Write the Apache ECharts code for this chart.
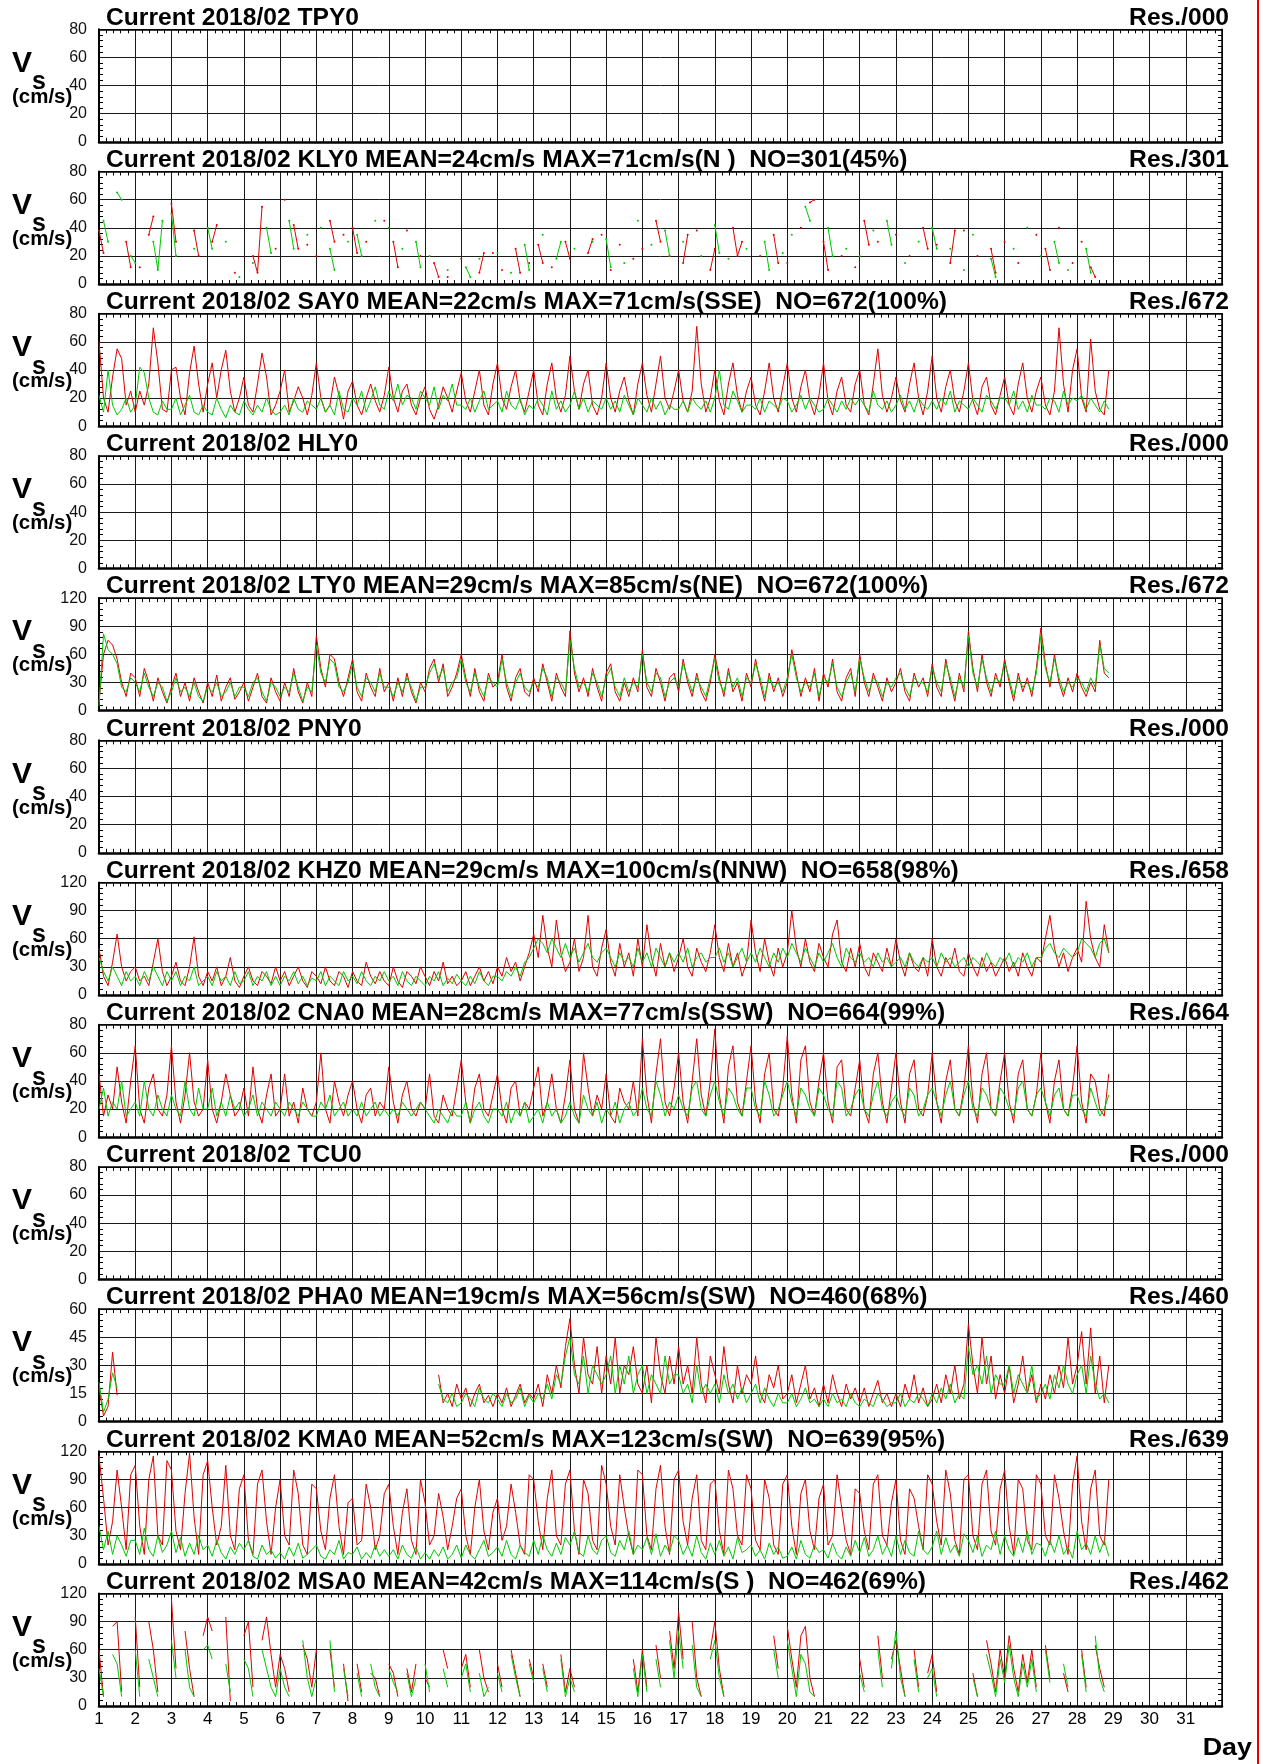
<!DOCTYPE html>
<html><head><meta charset="utf-8">
<script src="https://cdn.jsdelivr.net/npm/echarts@6/dist/echarts.min.js"></script>
<style>html,body{margin:0;padding:0;background:#fff}#c{width:1263px;height:1764px}</style>
</head><body><div id="c"></div>
<script>
const n = null;
// sampling: 8 samples per day (3-hourly), first sample at day 1.0
const START_DAY = 1, STEP_DAY = 0.125;
const dayTicks = [1,2,3,4,5,6,7,8,9,10,11,12,13,14,15,16,17,18,19,20,21,22,23,24,25,26,27,28,29,30,31];
const titles = [
 'Current 2018/02 TPY0',
 'Current 2018/02 KLY0 MEAN=24cm/s MAX=71cm/s(N )  NO=301(45%)',
 'Current 2018/02 SAY0 MEAN=22cm/s MAX=71cm/s(SSE)  NO=672(100%)',
 'Current 2018/02 HLY0',
 'Current 2018/02 LTY0 MEAN=29cm/s MAX=85cm/s(NE)  NO=672(100%)',
 'Current 2018/02 PNY0',
 'Current 2018/02 KHZ0 MEAN=29cm/s MAX=100cm/s(NNW)  NO=658(98%)',
 'Current 2018/02 CNA0 MEAN=28cm/s MAX=77cm/s(SSW)  NO=664(99%)',
 'Current 2018/02 TCU0',
 'Current 2018/02 PHA0 MEAN=19cm/s MAX=56cm/s(SW)  NO=460(68%)',
 'Current 2018/02 KMA0 MEAN=52cm/s MAX=123cm/s(SW)  NO=639(95%)',
 'Current 2018/02 MSA0 MEAN=42cm/s MAX=114cm/s(S )  NO=462(69%)'
];
const resLabels = ['Res./000','Res./301','Res./672','Res./000','Res./672','Res./000','Res./658','Res./664','Res./000','Res./460','Res./639','Res./462'];
const yMax = [80,80,80,80,120,80,120,80,80,60,120,120];
const yStep = [20,20,20,20,30,20,30,20,20,15,30,30];

const KLY0_red = [
[38,22,n,n,n,n,30,12],[n,12,n,35,48,n,n,n],[57,30,n,n,n,38,20,n],[n,30,42,n,n,n,8,n],
[n,n,20,8,55,n,n,25],[n,60,n,42,25,n,28,n],[20,n,n,45,30,n,35,n],[40,22,n,30,n,n,n,45],
[n,30,12,n,38,n,n,20],[n,n,15,5,n,5,n,n],[18,n,n,n,8,22,n,22],[n,10,n,n,25,8,n,15],
[n,28,15,n,12,n,n,30],[18,n,n,n,22,32,n,35],[n,10,n,28,n,n,18,n],[25,n,n,45,30,n,20,n],
[n,15,35,n,38,n,n,10],[25,n,n,n,40,20,30,n],[n,n,20,n,n,35,15,n],[15,n,n,40,n,58,60,n],
[30,10,n,n,20,n,n,12],[n,45,28,n,30,n,n,n],[35,n,n,20,n,n,40,25],[n,28,n,n,15,38,n,38],
[n,n,20,n,n,25,8,n],[30,n,n,15,n,n,n,35],[n,25,10,n,40,n,n,15],[n,30,n,12,5,n,n,n]];
const KLY0_green = [
[n,45,30,n,65,60,n,20],[15,n,n,n,30,10,45,n],[50,20,n,n,n,25,n,n],[40,25,n,n,30,n,n,5],
[n,n,15,n,n,40,22,n],[n,n,45,25,n,n,35,n],[n,40,n,25,10,n,n,30],[n,35,20,n,n,45,n,n],
[40,n,n,25,n,n,30,12],[n,20,n,n,n,10,n,n],[n,12,5,n,18,n,n,n],[22,n,n,8,n,n,28,10],
[n,n,35,n,n,18,30,n],[n,25,n,n,n,30,n,n],[32,12,n,n,15,n,n,45],[n,n,28,n,n,38,20,n],
[n,30,n,n,n,20,n,n],[42,22,n,18,n,n,n,25],[n,n,n,30,10,n,n,22],[n,35,n,n,55,45,n,n],
[n,40,20,n,n,25,n,n],[20,n,n,38,n,n,45,28],[n,n,15,n,n,30,n,n],[40,25,n,n,25,n,n,10],
[n,35,n,n,n,18,5,n],[n,n,25,n,n,40,n,n],[20,n,n,30,15,n,10,n],[n,n,25,8,n,n,n,n]];

const SAY0_red = [
[60,20,10,35,55,48,15,25],[10,25,15,30,70,45,12,10],[40,42,20,8,38,57,30,10],[30,45,20,40,54,25,10,20],
[35,15,10,30,52,35,8,15],[25,40,10,18,28,20,8,22],[45,20,10,15,35,22,5,25],[32,15,8,20,30,18,10,22],
[42,20,10,25,30,15,8,20],[28,12,5,15,28,20,10,25],[38,18,10,25,40,15,8,30],[45,20,12,28,40,18,10,25],
[40,15,8,30,45,20,10,22],[50,25,12,30,40,15,8,20],[45,20,10,25,35,18,8,30],[45,22,10,30,50,20,12,25],
[40,18,10,25,71,30,10,20],[40,18,8,30,45,22,10,25],[35,15,8,25,45,20,10,28],[45,20,10,28,40,18,8,22],
[45,18,8,25,35,15,10,30],[40,15,8,30,55,22,10,20],[35,18,10,30,45,20,8,25],[50,20,10,28,40,18,10,25],
[45,18,8,28,35,15,8,22],[35,15,8,30,45,20,10,25],[35,15,8,25,70,30,10,40],[55,20,10,62,25,12,8,40]];
const SAY0_green = [
[22,10,40,15,8,12,20,10],[15,42,38,20,10,8,18,12],[12,20,8,15,22,10,8,15],[10,8,20,12,6,15,10,8],
[18,12,8,15,10,20,12,8],[10,15,8,20,12,10,18,15],[12,20,10,15,8,25,12,10],[20,15,25,10,18,28,15,12],
[25,18,30,15,22,20,12,25],[20,15,28,12,22,18,30,15],[15,12,20,10,18,25,12,15],[18,10,25,15,12,20,8,15],
[12,20,15,8,25,12,18,10],[15,25,12,20,10,18,15,12],[20,12,18,10,22,15,8,20],[15,10,20,12,18,8,15,12],
[12,18,10,20,15,12,18,10],[20,40,15,12,25,18,10,15],[15,12,20,10,18,15,12,20],[18,10,15,22,12,20,15,10],
[12,20,15,10,18,12,20,15],[20,15,10,25,15,12,18,10],[15,22,12,18,10,20,15,12],[18,12,20,15,25,10,18,15],
[12,20,15,10,22,18,12,20],[20,15,25,12,18,10,22,15],[15,12,20,18,10,25,15,20],[18,22,12,20,15,10,18,12]];

const LTY0_red = [
[10,60,75,70,55,30,15,40],[35,15,45,30,10,35,20,8],[25,40,15,30,10,35,20,8],[30,15,38,10,25,35,12,20],
[30,10,25,40,15,8,35,20],[10,30,15,45,20,8,30,15],[80,45,25,60,55,30,15,35],[55,20,10,40,25,15,45,20],
[30,10,35,15,40,20,8,30],[20,45,55,30,50,15,25,40],[60,35,15,45,20,10,40,25],[30,60,25,10,35,45,20,15],
[35,20,50,30,10,40,25,15],[85,40,20,35,15,45,25,10],[40,50,20,10,30,15,35,20],[65,25,15,45,30,10,35,40],
[20,55,30,15,40,20,10,30],[60,35,15,45,20,30,10,40],[25,55,30,10,40,20,35,15],[30,65,40,15,35,20,45,10],
[40,25,55,20,10,35,45,15],[60,30,15,40,25,10,35,20],[30,45,20,10,40,25,35,15],[50,25,15,55,30,10,40,20],
[85,45,20,60,30,15,40,25],[55,30,10,40,20,35,15,45],[88,50,25,60,30,15,35,20],[40,25,15,30,20,75,40,35]];
const LTY0_green = [
[5,82,65,60,50,25,20,35],[30,20,40,25,15,30,25,10],[20,35,20,25,15,30,15,10],[25,20,30,15,20,30,15,25],
[25,15,30,35,20,10,30,25],[15,25,20,40,25,10,25,20],[70,40,30,55,50,25,20,30],[50,25,15,35,30,20,40,25],
[25,15,30,20,35,25,10,25],[25,40,50,35,45,20,30,35],[55,30,20,40,25,15,35,30],[25,55,30,15,30,40,25,20],
[30,25,45,35,15,35,30,20],[75,45,25,30,20,40,30,15],[35,45,25,15,35,20,30,25],[60,30,20,40,35,15,30,35],
[25,50,35,20,35,25,15,35],[55,30,20,40,25,35,15,35],[30,50,35,15,35,25,30,20],[35,60,35,20,30,25,40,15],
[35,30,50,25,15,30,40,20],[55,35,20,35,30,15,30,25],[35,40,25,15,35,30,30,20],[45,30,20,50,35,15,35,25],
[80,40,25,55,35,20,35,30],[50,35,15,35,25,30,20,40],[80,45,30,55,35,20,30,25],[35,30,20,35,25,70,45,40]];

const KHZ0_red = [
[50,20,10,35,65,30,15,25],[30,15,20,10,35,60,25,10],[20,35,15,10,30,62,20,10],[25,15,30,10,20,40,15,8],
[20,30,15,10,25,20,12,30],[15,25,10,20,30,15,8,25],[20,12,30,15,10,25,20,8],[25,15,10,35,20,12,25,15],
[10,30,15,8,25,20,12,30],[20,10,25,15,35,12,20,10],[15,25,10,20,30,15,25,12],[30,20,40,25,35,15,30,45],
[65,40,85,50,30,80,45,25],[35,60,25,40,85,30,20,50],[70,35,20,55,30,45,20,60],[30,75,40,20,55,30,45,25],
[40,60,30,20,50,35,25,45],[75,40,25,55,30,45,20,35],[80,45,25,60,35,20,50,30],[45,90,50,30,60,35,25,55],
[40,30,65,80,35,25,50,30],[55,30,20,45,35,25,50,30],[60,35,20,45,30,25,40,20],[60,30,20,40,30,50,25,20],
[45,30,20,40,25,35,20,30],[40,25,35,20,45,30,20,40],[35,60,85,50,30,45,25,40],[50,35,100,60,40,30,75,45]];
const KHZ0_green = [
[40,25,15,30,20,10,25,15],[20,10,25,15,30,20,10,25],[15,25,10,20,15,30,10,15],[20,10,25,15,20,10,25,12],
[15,25,10,20,15,25,10,20],[10,20,15,25,12,20,10,18],[15,25,10,20,15,10,25,15],[20,12,25,15,10,20,15,25],
[15,20,10,25,15,10,20,15],[10,20,15,25,10,18,12,22],[15,10,20,12,25,15,10,20],[20,15,25,20,30,20,35,40],
[50,60,55,45,60,50,40,55],[40,50,35,45,55,40,35,45],[50,40,30,45,35,40,30,50],[35,45,30,50,40,30,45,35],
[45,35,50,30,40,45,35,40],[40,50,35,45,30,40,50,35],[45,35,50,40,30,45,35,50],[40,55,45,35,50,40,30,45],
[35,45,55,40,30,50,40,35],[45,35,40,30,45,35,40,30],[35,40,30,45,35,30,40,35],[40,30,45,35,40,30,35,40],
[30,40,35,30,45,35,30,40],[35,45,30,40,35,45,30,40],[40,50,55,45,40,50,45,40],[45,60,55,50,40,55,60,45]];

const CNA0_red = [
[45,15,30,20,50,25,10,40],[65,20,10,35,45,20,15,30],[65,25,10,30,60,25,15,20],[55,20,10,25,45,30,15,20],
[35,15,50,20,10,30,45,15],[20,45,15,25,10,35,20,15],[25,60,20,10,40,25,15,30],[40,20,10,30,35,15,25,20],
[50,25,10,30,40,20,15,25],[20,45,15,10,30,20,15,35],[55,25,10,35,45,20,15,30],[45,20,10,35,40,15,25,20],
[35,50,15,25,45,20,10,30],[55,20,10,60,35,15,30,20],[45,15,10,35,25,20,40,15],[70,30,10,45,70,25,15,35],
[60,25,10,40,70,30,15,40],[77,30,10,50,65,25,15,40],[65,25,10,45,60,20,15,35],[72,30,10,55,65,25,15,40],
[60,25,10,50,55,20,15,35],[55,20,10,45,60,25,10,35],[60,25,10,45,55,20,15,30],[60,25,10,40,55,20,15,35],
[65,25,10,45,60,20,15,40],[60,25,10,45,55,20,15,30],[60,25,10,40,55,20,15,35],[65,25,10,45,40,20,15,45]];
const CNA0_green = [
[20,35,15,25,20,40,15,20],[25,15,40,20,15,30,20,15],[30,20,15,40,20,15,35,20],[20,35,15,25,15,30,20,25],
[15,20,30,15,25,20,15,25],[20,15,25,20,15,25,20,15],[15,25,20,30,15,20,25,15],[20,15,25,15,20,25,15,20],
[15,20,15,25,20,15,20,25],[20,15,10,20,15,10,20,15],[15,25,10,20,25,15,10,20],[20,15,25,10,20,15,25,10],
[15,20,10,25,15,20,10,15],[25,15,10,30,20,15,25,10],[20,15,25,10,20,25,15,20],[35,20,15,40,30,15,25,20],
[30,20,15,35,40,20,15,30],[40,25,15,35,30,20,15,35],[35,20,15,40,30,15,20,30],[40,25,15,35,30,20,15,35],
[30,20,15,40,35,15,20,30],[35,20,15,30,40,20,15,25],[30,20,15,35,30,15,20,30],[35,25,15,30,40,20,15,30],
[40,20,15,35,30,20,15,35],[30,20,15,35,40,20,15,30],[35,25,15,30,35,20,15,30],[30,20,15,35,25,15,20,30]];

const PHA0_red = [
[18,3,8,37,14,n,n,n],[n,n,n,n,n,n,n,n],[n,n,n,n,n,n,n,n],[n,n,n,n,n,n,n,n],
[n,n,n,n,n,n,n,n],[n,n,n,n,n,n,n,n],[n,n,n,n,n,n,n,n],[n,n,n,n,n,n,n,n],
[n,n,n,n,n,n,n,n],[n,n,n,25,10,15,8,20],[12,18,8,15,20,10,14,8],[15,10,18,8,14,20,10,15],
[12,20,8,25,15,30,18,40],[55,30,15,45,25,20,40,15],[35,20,45,15,30,25,40,20],[15,30,10,45,25,15,35,20],
[40,20,30,15,45,20,10,35],[25,15,40,20,10,30,15,25],[20,35,15,10,25,18,30,12],[15,25,10,20,30,12,18,8],
[20,10,25,15,8,20,12,18],[10,18,8,15,22,10,15,8],[15,8,20,12,25,10,18,8],[12,20,10,25,15,30,12,20],
[52,30,15,45,20,35,12,25],[15,30,10,20,35,15,25,10],[20,12,25,15,30,18,45,20],[30,48,20,50,15,35,10,30]];
const PHA0_green = [
[21,5,12,26,18,n,n,n],[n,n,n,n,n,n,n,n],[n,n,n,n,n,n,n,n],[n,n,n,n,n,n,n,n],
[n,n,n,n,n,n,n,n],[n,n,n,n,n,n,n,n],[n,n,n,n,n,n,n,n],[n,n,n,n,n,n,n,n],
[n,n,n,n,n,n,n,n],[n,n,n,20,12,10,15,8],[10,15,12,8,18,12,10,15],[12,8,15,10,12,18,8,14],
[10,15,12,20,12,25,20,35],[45,25,20,35,15,30,25,20],[25,35,15,30,20,35,15,25],[30,15,25,20,15,35,20,25],
[25,15,20,10,30,15,20,15],[20,10,25,15,20,12,18,10],[15,20,10,18,12,8,15,10],[10,15,8,12,18,10,12,8],
[12,8,15,10,12,8,15,10],[8,12,10,8,15,12,8,10],[10,15,8,12,10,15,12,8],[15,10,18,12,20,10,15,12],
[40,25,30,20,35,15,25,20],[20,30,15,25,20,15,30,12],[15,20,12,25,18,30,20,15],[25,30,15,35,20,12,15,10]];

const KMA0_red = [
[115,70,20,45,100,60,15,95],[105,40,10,90,115,30,20,110],[100,35,15,75,118,50,10,95],[110,60,20,40,105,30,15,80],
[95,25,10,85,100,45,10,60],[90,30,20,100,75,20,10,85],[80,35,15,70,95,40,10,65],[70,20,25,85,60,15,30,75],
[85,40,10,55,80,25,10,90],[65,20,30,75,50,15,40,70],[80,30,10,60,90,35,15,55],[70,25,40,85,55,20,10,95],
[90,45,15,70,100,30,20,85],[100,35,10,90,75,25,15,105],[85,40,20,95,60,30,10,100],[95,30,15,80,105,40,10,90],
[100,45,20,70,95,25,15,85],[90,35,10,100,80,30,20,95],[80,25,15,90,70,20,10,85],[95,40,10,75,90,35,15,70],
[85,20,30,95,60,25,10,80],[75,35,15,85,95,30,20,65],[90,25,10,80,70,40,15,95],[85,45,20,100,75,25,10,90],
[95,30,15,85,100,35,20,80],[100,40,10,90,80,25,15,95],[85,30,20,95,70,35,10,85],[115,45,15,80,100,30,20,90]];
const KMA0_green = [
[40,15,35,10,30,20,8,25],[25,10,38,15,8,30,12,20],[35,12,28,8,22,10,30,15],[20,8,25,12,5,18,10,22],
[15,25,8,5,20,10,15,6],[12,5,18,8,22,6,10,15],[20,8,5,15,10,25,5,12],[10,18,5,12,6,20,8,15],
[8,15,5,20,10,6,18,5],[12,5,15,8,18,5,10,20],[6,20,10,5,15,25,8,12],[18,8,25,10,5,20,12,8],
[25,10,30,15,8,22,10,28],[20,35,12,8,30,15,10,25],[30,12,8,25,15,35,10,20],[15,28,10,32,8,20,12,30],
[25,10,20,8,30,12,5,22],[10,25,8,18,5,28,12,15],[20,8,15,5,22,10,18,6],[8,18,5,25,10,6,20,12],
[15,6,22,10,5,18,8,25],[12,28,8,15,30,10,20,8],[30,10,25,12,8,35,15,10],[18,35,10,28,12,20,8,32],
[25,12,30,8,20,15,35,10],[30,15,8,28,12,35,10,22],[20,8,25,12,30,10,18,6],[35,15,22,10,30,12,25,8]];

const MSA0_red = [
[60,10,n,85,90,15,n,n],[95,20,n,90,60,15,n,n],[114,40,n,80,40,10,n,75],[95,80,n,n,95,5,n,n],
[75,90,20,n,70,95,55,20],[55,40,15,n,n,65,50,20],[60,n,n,60,20,n,45,5],[n,45,15,n,35,30,10,n],
[45,35,10,n,40,15,45,n],[30,20,n,n,60,40,n,n],[40,55,20,n,60,30,15,n],[45,20,n,60,35,10,n,50],
[30,n,45,20,n,n,55,15],[40,20,n,n,n,n,n,n],[n,n,n,n,n,n,50,15],[60,20,n,65,30,n,80,40],
[100,50,n,90,30,10,n,60],[90,40,10,n,n,n,n,n],[n,n,n,n,n,75,40,n],[85,50,20,75,85,30,10,n],
[60,n,n,n,95,n,n,n],[50,20,n,n,75,30,n,50],[70,40,10,n,60,20,n,35],[55,15,n,n,n,n,n,n],
[n,35,10,n,70,45,15,60],[30,75,40,15,55,25,60,20],[n,65,30,n,n,35,15,n],[n,60,20,n,65,40,20,n]];
const MSA0_green = [
[40,10,n,55,45,10,n,n],[60,10,n,50,30,10,n,n],[70,30,n,60,20,10,n,60],[65,50,n,n,45,15,n,n],
[50,40,10,n,60,40,20,10],[40,20,10,n,n,70,30,10],[30,n,n,70,15,n,40,10],[n,35,10,n,45,20,10,n],
[40,25,15,n,35,10,30,n],[45,15,n,n,40,20,n,n],[30,45,15,n,35,10,20,n],[35,15,n,55,30,10,n,45],
[25,n,40,15,n,n,50,10],[30,15,n,n,85,n,n,n],[n,n,n,n,n,n,40,10],[55,15,n,50,20,n,70,30],
[80,40,n,65,20,10,n,50],[70,30,10,n,n,n,n,n],[n,n,n,n,n,60,30,n],[70,40,10,55,45,15,10,n],
[45,n,n,n,50,n,n,n],[35,15,n,n,60,20,n,40],[80,30,10,n,50,15,n,30],[40,10,n,n,n,n,n,n],
[n,30,10,n,55,35,10,50],[25,65,30,10,45,20,50,15],[n,60,25,n,n,45,20,n],[n,55,15,n,75,30,15,n]];

const panelRed   = [null, KLY0_red, SAY0_red, null, LTY0_red, null, KHZ0_red, CNA0_red, null, PHA0_red, KMA0_red, MSA0_red];
const panelGreen = [null, KLY0_green, SAY0_green, null, LTY0_green, null, KHZ0_green, CNA0_green, null, PHA0_green, KMA0_green, MSA0_green];

// ---------- layout / style ----------
const TOP0 = 29.3, PITCH = 142.2, PH = 112.5, LEFT = 99, PW = 1123;
const FONT = '"Liberation Sans", Arial, Helvetica, sans-serif';
const RED = '#e00000', GREEN = '#00c800', GRIDC = '#1a1a1a';

function toPairs(rows){
  const flat = rows.flat();
  return flat.map((v,k) => [START_DAY + k*STEP_DAY, v === null ? '-' : v]);
}

const grid = [], xAxis = [], yAxis = [], series = [], graphic = [];
for (let i = 0; i < 12; i++) {
  const top = TOP0 + i*PITCH;
  grid.push({left: LEFT, top: top, width: PW, height: PH, outerBoundsMode: 'none', containLabel: false});
  const minor = {show: true, splitNumber: 5, length: 4, lineStyle: {color: '#000', width: 1}};
  xAxis.push({
    gridIndex: i, type: 'value', position: 'bottom', min: 1, max: 32, interval: 1,
    axisLine: {show: true, onZero: false, lineStyle: {color: '#000', width: 2.5}},
    axisTick: {show: true, inside: true, length: 1, lineStyle: {color: '#000'}},
    minorTick: minor,
    axisLabel: {show: i === 11, margin: 5, fontSize: 17, color: '#000', fontFamily: FONT,
      hideOverlap: false, showMinLabel: true, showMaxLabel: false,
      formatter: v => (dayTicks.indexOf(v) >= 0 ? String(v) : '')},
    splitLine: {show: true, lineStyle: {color: GRIDC, width: 1}},
    minorSplitLine: {show: false}
  });
  xAxis.push({
    gridIndex: i, type: 'value', position: 'top', min: 1, max: 32, interval: 1,
    axisLine: {show: true, onZero: false, lineStyle: {color: '#000', width: 1.5}},
    axisTick: {show: true, inside: true, length: 1, lineStyle: {color: '#000'}},
    minorTick: minor, axisLabel: {show: false}, splitLine: {show: false}
  });
  yAxis.push({
    gridIndex: i, type: 'value', position: 'left', min: 0, max: yMax[i], interval: yStep[i],
    axisLine: {show: true, onZero: false, lineStyle: {color: '#000', width: 2}},
    axisTick: {show: true, inside: true, length: 1, lineStyle: {color: '#000'}},
    minorTick: minor,
    axisLabel: {show: true, margin: 12, fontSize: 16, color: '#111', fontFamily: FONT, showMinLabel: true, showMaxLabel: true},
    splitLine: {show: true, lineStyle: {color: GRIDC, width: 1}},
    minorSplitLine: {show: false}
  });
  yAxis.push({
    gridIndex: i, type: 'value', position: 'right', min: 0, max: yMax[i], interval: yStep[i],
    axisLine: {show: true, onZero: false, lineStyle: {color: '#000', width: 1.5}},
    axisTick: {show: true, inside: true, length: 1, lineStyle: {color: '#000'}},
    minorTick: minor, axisLabel: {show: false}, splitLine: {show: false}
  });
  const pairs = [[panelRed[i], RED], [panelGreen[i], GREEN]];
  pairs.forEach(([rows, col]) => {
    if (!rows) return;
    const dotted = (i === 1);
    series.push({
      type: 'line', xAxisIndex: 2*i, yAxisIndex: 2*i, data: toPairs(rows),
      showSymbol: dotted, showAllSymbol: true, symbol: 'circle', symbolSize: 2,
      connectNulls: false, silent: true, animation: false,
      lineStyle: {color: col, width: 1}, itemStyle: {color: col, borderWidth: 0}
    });
  });
  // panel title and resolution label
  graphic.push({type: 'text', x: 106, y: top - 11, scaleX: 1.07, silent: true,
    style: {text: titles[i], x: 0, y: 0, fill: '#000', fontFamily: FONT, fontWeight: 'bold', fontSize: 23,
      textAlign: 'left', textVerticalAlign: 'middle', verticalAlign: 'middle'}});
  graphic.push({type: 'text', x: 1229, y: top - 11, scaleX: 1.07, silent: true,
    style: {text: resLabels[i], x: 0, y: 0, fill: '#000', fontFamily: FONT, fontWeight: 'bold', fontSize: 23,
      textAlign: 'right', textVerticalAlign: 'middle', verticalAlign: 'middle'}});
  // Vs (cm/s) label
  graphic.push({type: 'text', x: 12, y: top + 34, silent: true,
    style: {text: 'V', fill: '#000', fontFamily: FONT, fontWeight: 'bold', fontSize: 30,
      textAlign: 'left', textVerticalAlign: 'middle', verticalAlign: 'middle'}});
  graphic.push({type: 'text', x: 32, y: top + 53, silent: true,
    style: {text: 's', fill: '#000', fontFamily: FONT, fontWeight: 'bold', fontSize: 25,
      textAlign: 'left', textVerticalAlign: 'middle', verticalAlign: 'middle'}});
  graphic.push({type: 'text', x: 12, y: top + 68, scaleX: 1.05, silent: true,
    style: {text: '(cm/s)', fill: '#000', fontFamily: FONT, fontWeight: 'bold', fontSize: 19.5,
      textAlign: 'left', textVerticalAlign: 'middle', verticalAlign: 'middle'}});
}
graphic.push({type: 'text', x: 1252, y: 1748, scaleX: 1.12, silent: true,
  style: {text: 'Day', fill: '#000', fontFamily: FONT, fontWeight: 'bold', fontSize: 24,
    textAlign: 'right', textVerticalAlign: 'middle', verticalAlign: 'middle'}});
graphic.push({type: 'rect', x: 1257, y: 0, silent: true, shape: {x: 0, y: 0, width: 2, height: 1764},
  style: {fill: RED}});

const chart = echarts.init(document.getElementById('c'), null, {renderer: 'canvas', width: 1263, height: 1764});
chart.setOption({
  animation: false, backgroundColor: '#fff',
  textStyle: {fontFamily: FONT},
  grid, xAxis, yAxis, series, graphic
});
</script></body></html>
